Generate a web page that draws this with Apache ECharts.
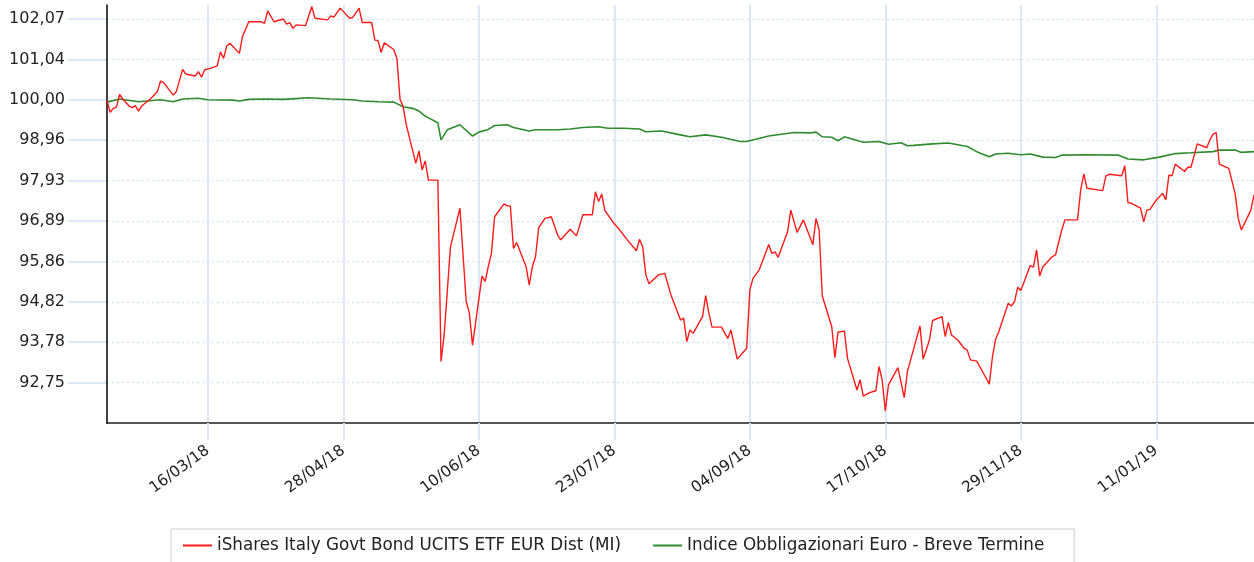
<!DOCTYPE html>
<html>
<head>
<meta charset="utf-8">
<script src="https://cdn.jsdelivr.net/npm/echarts@6/dist/echarts.min.js"></script>
<style>
  html, body { margin: 0; padding: 0; background: #fff; }
  #chart { width: 1254px; height: 562px; }
</style>
</head>
<body>
<div id="chart"></div>
<script>
'use strict';

// date labels shown under the x axis
var tickLabels = ['16/03/18', '28/04/18', '10/06/18', '23/07/18', '04/09/18', '17/10/18', '29/11/18', '11/01/19'];

// y axis: 91,71 -> 102,07 step 1,036 (plot goes a bit above the last tick)
var yMin = 91.712;
var yStep = 1.036;
var yTop = 102.43;

var seriesNames = ['iShares Italy Govt Bond UCITS ETF EUR Dist (MI)', 'Indice Obbligazionari Euro - Breve Termine'];

var redDates = [
  '12/02/18', '13/02/18', '14/02/18', '15/02/18', '16/02/18', '17/02/18', '19/02/18', '20/02/18', '21/02/18', '22/02/18',
  '23/02/18', '26/02/18', '28/02/18', '01/03/18', '02/03/18', '05/03/18', '06/03/18', '08/03/18', '09/03/18', '12/03/18',
  '13/03/18', '14/03/18', '15/03/18', '17/03/18', '19/03/18', '20/03/18', '21/03/18', '22/03/18', '23/03/18', '26/03/18',
  '27/03/18', '29/03/18', '02/04/18', '03/04/18', '04/04/18', '06/04/18', '09/04/18', '10/04/18', '11/04/18', '12/04/18',
  '13/04/18', '16/04/18', '18/04/18', '19/04/18', '23/04/18', '24/04/18', '25/04/18', '27/04/18', '30/04/18', '01/05/18',
  '03/05/18', '04/05/18', '07/05/18', '08/05/18', '09/05/18', '10/05/18', '11/05/18', '14/05/18', '15/05/18', '16/05/18',
  '17/05/18', '18/05/18', '21/05/18', '22/05/18', '23/05/18', '24/05/18', '25/05/18', '28/05/18', '29/05/18', '30/05/18',
  '01/06/18', '04/06/18', '06/06/18', '07/06/18', '08/06/18', '11/06/18', '12/06/18', '13/06/18', '14/06/18', '15/06/18',
  '18/06/18', '19/06/18', '20/06/18', '21/06/18', '22/06/18', '25/06/18', '26/06/18', '27/06/18', '28/06/18', '29/06/18',
  '01/07/18', '03/07/18', '05/07/18', '06/07/18', '09/07/18', '11/07/18', '13/07/18', '16/07/18', '17/07/18', '18/07/18',
  '19/07/18', '20/07/18', '23/07/18', '24/07/18', '27/07/18', '30/07/18', '31/07/18', '01/08/18', '02/08/18', '03/08/18',
  '06/08/18', '08/08/18', '10/08/18', '13/08/18', '14/08/18', '15/08/18', '16/08/18', '17/08/18', '20/08/18', '21/08/18',
  '22/08/18', '23/08/18', '26/08/18', '28/08/18', '29/08/18', '31/08/18', '03/09/18', '04/09/18', '05/09/18', '07/09/18',
  '10/09/18', '11/09/18', '12/09/18', '13/09/18', '16/09/18', '17/09/18', '19/09/18', '21/09/18', '24/09/18', '25/09/18',
  '26/09/18', '27/09/18', '30/09/18', '01/10/18', '02/10/18', '04/10/18', '05/10/18', '08/10/18', '09/10/18', '10/10/18',
  '12/10/18', '14/10/18', '15/10/18', '16/10/18', '17/10/18', '18/10/18', '21/10/18', '23/10/18', '24/10/18', '28/10/18',
  '29/10/18', '31/10/18', '01/11/18', '04/11/18', '05/11/18', '06/11/18', '07/11/18', '09/11/18', '11/11/18', '12/11/18',
  '13/11/18', '15/11/18', '18/11/18', '19/11/18', '20/11/18', '21/11/18', '22/11/18', '25/11/18', '26/11/18', '27/11/18',
  '28/11/18', '29/11/18', '02/12/18', '03/12/18', '04/12/18', '05/12/18', '06/12/18', '09/12/18', '10/12/18', '12/12/18',
  '13/12/18', '17/12/18', '18/12/18', '19/12/18', '20/12/18', '25/12/18', '26/12/18', '27/12/18', '31/12/18', '01/01/19',
  '02/01/19', '03/01/19', '06/01/19', '07/01/19', '08/01/19', '09/01/19', '11/01/19', '13/01/19', '14/01/19', '15/01/19',
  '16/01/19', '17/01/19', '20/01/19', '21/01/19', '22/01/19', '24/01/19', '27/01/19', '28/01/19', '29/01/19', '30/01/19',
  '31/01/19', '03/02/19', '05/02/19', '06/02/19', '07/02/19', '10/02/19', '11/02/19'
];
var redValues = [
  99.98, 99.68, 99.78, 99.81, 100.14, 100.02, 99.84, 99.80, 99.85, 99.71,
  99.84, 100.04, 100.21, 100.48, 100.44, 100.12, 100.21, 100.78, 100.66, 100.61,
  100.72, 100.58, 100.77, 100.81, 100.87, 101.23, 101.06, 101.38, 101.45, 101.19,
  101.62, 102.00, 102.00, 101.96, 102.28, 102.00, 102.07, 101.94, 101.98, 101.83,
  101.92, 101.90, 102.39, 102.09, 102.05, 102.15, 102.12, 102.35, 102.09, 102.11,
  102.35, 101.98, 101.98, 101.53, 101.52, 101.21, 101.46, 101.29, 101.06, 100.01,
  99.82, 99.35, 98.37, 98.69, 98.20, 98.43, 97.94, 97.94, 93.29, 93.97,
  96.23, 97.22, 94.82, 94.53, 93.71, 95.48, 95.34, 95.72, 96.06, 97.00,
  97.33, 97.28, 97.28, 96.19, 96.34, 95.72, 95.25, 95.72, 95.98, 96.72,
  96.96, 97.00, 96.53, 96.41, 96.68, 96.51, 97.05, 97.05, 97.64, 97.39,
  97.58, 97.16, 96.82, 96.73, 96.42, 96.13, 96.42, 96.23, 95.51, 95.28,
  95.51, 95.55, 94.99, 94.35, 94.40, 93.80, 94.10, 94.01, 94.44, 94.98,
  94.53, 94.17, 94.17, 93.88, 94.10, 93.35, 93.63, 95.12, 95.42, 95.64,
  96.29, 96.06, 96.10, 95.96, 96.62, 97.17, 96.60, 96.92, 96.28, 96.96,
  96.66, 94.97, 94.18, 93.39, 94.04, 94.07, 93.37, 92.56, 92.82, 92.40,
  92.49, 92.54, 93.16, 92.82, 92.02, 92.69, 93.13, 92.36, 93.03, 94.20,
  93.35, 93.84, 94.34, 94.44, 93.93, 94.29, 93.97, 93.84, 93.63, 93.58,
  93.33, 93.30, 92.86, 92.71, 93.41, 93.86, 94.05, 94.78, 94.71, 94.82,
  95.19, 95.11, 95.75, 95.71, 96.15, 95.48, 95.72, 95.98, 96.02, 96.66,
  96.92, 96.92, 97.69, 98.10, 97.73, 97.67, 98.05, 98.09, 98.05, 98.31,
  97.36, 97.35, 97.22, 96.87, 97.17, 97.19, 97.43, 97.60, 97.43, 98.07,
  98.05, 98.35, 98.16, 98.27, 98.27, 98.87, 98.77, 98.97, 99.12, 99.16,
  98.35, 98.24, 97.60, 96.96, 96.66, 97.17, 97.56
];

var greenDates = [
  '12/02/18', '16/02/18', '22/02/18', '01/03/18', '05/03/18', '08/03/18', '13/03/18', '16/03/18', '24/03/18', '26/03/18',
  '29/03/18', '03/04/18', '09/04/18', '13/04/18', '17/04/18', '24/04/18', '01/05/18', '04/05/18', '09/05/18', '14/05/18',
  '17/05/18', '20/05/18', '22/05/18', '24/05/18', '28/05/18', '29/05/18', '31/05/18', '04/06/18', '08/06/18', '10/06/18',
  '13/06/18', '15/06/18', '19/06/18', '21/06/18', '26/06/18', '28/06/18', '05/07/18', '09/07/18', '13/07/18', '18/07/18',
  '21/07/18', '26/07/18', '31/07/18', '02/08/18', '07/08/18', '13/08/18', '16/08/18', '21/08/18', '26/08/18', '01/09/18',
  '03/09/18', '10/09/18', '18/09/18', '23/09/18', '25/09/18', '27/09/18', '30/09/18', '02/10/18', '04/10/18', '10/10/18',
  '15/10/18', '18/10/18', '22/10/18', '24/10/18', '26/10/18', '01/11/18', '06/11/18', '12/11/18', '15/11/18', '19/11/18',
  '21/11/18', '25/11/18', '29/11/18', '02/12/18', '06/12/18', '10/12/18', '12/12/18', '19/12/18', '30/12/18', '02/01/19',
  '07/01/19', '12/01/19', '17/01/19', '22/01/19', '29/01/19', '31/01/19', '05/02/19', '07/02/19', '11/02/19'
];
var greenValues = [
  99.94, 100.02, 99.95, 100.00, 99.95, 100.02, 100.04, 100.00, 99.99, 99.97,
  100.01, 100.02, 100.01, 100.03, 100.05, 100.02, 100.00, 99.97, 99.95, 99.94,
  99.82, 99.78, 99.71, 99.58, 99.41, 98.97, 99.23, 99.36, 99.07, 99.17,
  99.24, 99.34, 99.36, 99.29, 99.20, 99.23, 99.23, 99.25, 99.29, 99.31,
  99.27, 99.27, 99.25, 99.18, 99.20, 99.10, 99.05, 99.10, 99.04, 98.93,
  98.93, 99.07, 99.16, 99.15, 99.17, 99.05, 99.04, 98.95, 99.05, 98.91,
  98.93, 98.86, 98.90, 98.82, 98.83, 98.87, 98.89, 98.80, 98.67, 98.54,
  98.61, 98.63, 98.59, 98.61, 98.53, 98.52, 98.58, 98.59, 98.58, 98.48,
  98.46, 98.53, 98.62, 98.64, 98.67, 98.71, 98.71, 98.65, 98.67
];

// calendar days of the x axis, 12/02/18 .. 11/02/19
function pad(n) { return (n < 10 ? '0' : '') + n; }
var categories = [];
for (var t = Date.UTC(2018, 1, 12); t <= Date.UTC(2019, 1, 11); t += 86400000) {
  var dt = new Date(t);
  categories.push(pad(dt.getUTCDate()) + '/' + pad(dt.getUTCMonth() + 1) + '/' + String(dt.getUTCFullYear()).slice(2));
}

function pairs(dates, values) {
  return dates.map(function (d, i) { return [d, values[i]]; });
}

function isTick(index, value) {
  return tickLabels.indexOf(value) >= 0;
}

var font = 'DejaVu Sans';
var plotTop = 5, plotBottom = 139;
// second grid only carries the y ticks / gridlines, ending exactly on the 102,07 tick
var pxPerUnit = (562 - plotTop - plotBottom) / (yTop - yMin);
var tickGridTop = plotTop + (yTop - (yMin + 10 * yStep)) * pxPerUnit;

var chart = echarts.init(document.getElementById('chart'));

chart.setOption({
  animation: false,
  backgroundColor: '#fff',
  grid: [
    { left: 107, right: 0, top: plotTop, bottom: plotBottom },
    { left: 107, right: 0, top: tickGridTop, bottom: plotBottom }
  ],
  legend: {
    left: 171, top: 529,
    padding: [8, 30, 9, 12],
    borderColor: '#cfcfcf', borderWidth: 1,
    itemWidth: 29, itemHeight: 2, itemGap: 32,
    icon: 'rect',
    textStyle: { fontFamily: font, fontSize: 16.8, color: '#222' },
    data: seriesNames
  },
  xAxis: [
    {
      type: 'category',
      gridIndex: 0,
      data: categories,
      boundaryGap: false,
      axisLine: { lineStyle: { color: '#555', width: 2 } },
      axisTick: { show: true, interval: isTick, length: 17, lineStyle: { color: '#dce8f6', width: 2 } },
      axisLabel: { interval: isTick, rotate: 36, margin: 26, fontFamily: font, fontSize: 15.5, color: '#222' },
      splitLine: { show: true, interval: isTick, lineStyle: { color: '#dce8f6', width: 2 } },
      z: 1
    },
    {
      type: 'category', gridIndex: 1, data: categories, boundaryGap: false, show: false
    }
  ],
  yAxis: [
    {
      type: 'value',
      gridIndex: 0,
      min: yMin,
      max: yTop,
      axisLine: { show: true, lineStyle: { color: '#000', width: 1.5 } },
      axisTick: { show: false },
      axisLabel: { show: false },
      splitLine: { show: false },
      z: 2
    },
    {
      type: 'value',
      gridIndex: 1,
      min: yMin,
      max: yMin + 10 * yStep,
      interval: yStep,
      axisLine: { show: false },
      axisTick: { show: true, length: 39, lineStyle: { color: '#dce8f6', width: 2 } },
      axisLabel: {
        showMinLabel: false, margin: 42,
        fontFamily: font, fontSize: 16, color: '#222',
        formatter: function (v) { return v.toFixed(2).replace('.', ','); }
      },
      splitLine: { show: true, lineStyle: { color: '#cfe0f3', type: [2, 3], width: 1 } }
    }
  ],
  series: [
    {
      name: seriesNames[0], type: 'line', data: pairs(redDates, redValues),
      xAxisIndex: 0, yAxisIndex: 0,
      showSymbol: false, symbol: 'none', color: '#ff1a1a',
      lineStyle: { width: 1.4, color: '#ff1a1a' }, z: 3
    },
    {
      name: seriesNames[1], type: 'line', data: pairs(greenDates, greenValues),
      xAxisIndex: 0, yAxisIndex: 0,
      showSymbol: false, symbol: 'none', color: '#2e8b2e',
      lineStyle: { width: 1.6, color: '#2e8b2e' }, z: 2
    }
  ]
});
</script>
</body>
</html>
